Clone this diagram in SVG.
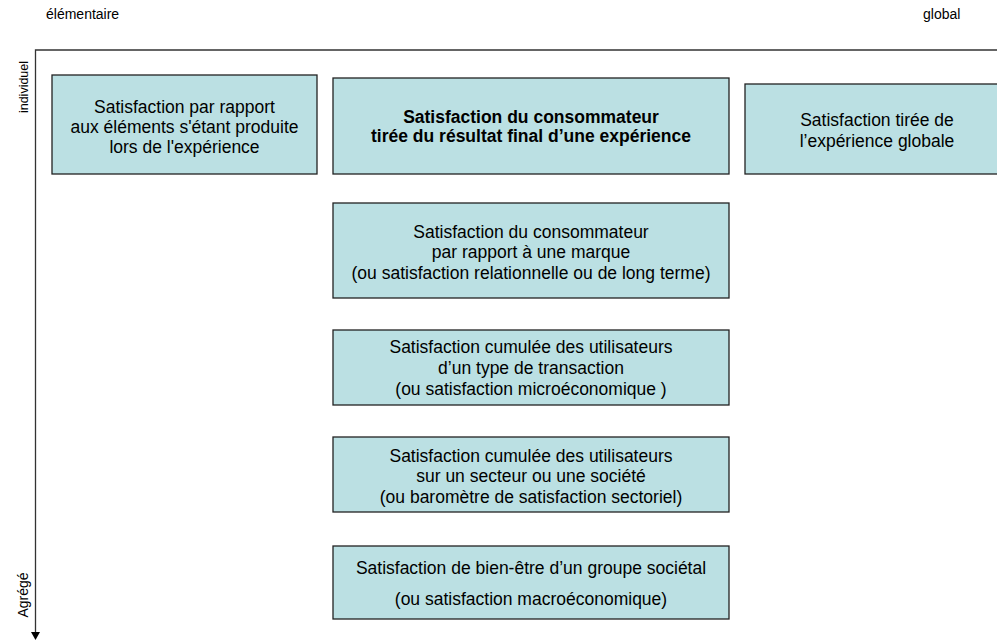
<svg xmlns="http://www.w3.org/2000/svg" width="997" height="641" viewBox="0 0 997 641">
<defs>
<style>
.box{fill:#BBE0E3;stroke:#222;stroke-width:1.3}
.t{font-family:"Liberation Sans",Arial,sans-serif;font-size:17.5px;fill:#000;text-anchor:middle}
.b{font-weight:bold}
.ax{font-family:"Liberation Sans",Arial,sans-serif;font-size:14px;fill:#000}
.axl{stroke:#333;stroke-width:1.3;fill:none}
</style>
</defs>
<rect width="997" height="641" fill="#fff"/>
<g id="axes">
<text class="ax" x="46" y="19">élémentaire</text>
<text class="ax" x="923" y="19">global</text>
<text class="ax" transform="translate(28,87) rotate(-90)" text-anchor="middle" style="font-size:12.5px">individuel</text>
<text class="ax" transform="translate(28,595) rotate(-90)" text-anchor="middle">Agrégé</text>
<path class="axl" d="M997,50 H35.5 V633"/>
<path d="M31,632 L40,632 L35.5,640 Z" fill="#000"/>
</g>
<g id="n1"><rect class="box" x="52" y="75" width="265" height="99"/>
<text class="t" x="184.5" y="113">Satisfaction par rapport</text>
<text class="t" x="184.5" y="133">aux éléments s'étant produite</text>
<text class="t" x="184.5" y="153">lors de l'expérience</text></g>
<g id="n2"><rect class="box" x="333" y="78" width="396" height="96"/>
<text class="t b" x="531" y="123">Satisfaction du consommateur</text>
<text class="t b" x="531" y="142">tirée du résultat final d’une expérience</text></g>
<g id="n3"><rect class="box" x="745" y="84" width="270" height="90"/>
<text class="t" x="877" y="126">Satisfaction tirée de</text>
<text class="t" x="877" y="147">l’expérience globale</text></g>
<g id="n4"><rect class="box" x="333" y="203" width="396" height="95"/>
<text class="t" x="531" y="238">Satisfaction du consommateur</text>
<text class="t" x="531" y="258">par rapport à une marque</text>
<text class="t" x="531" y="279">(ou satisfaction relationnelle ou de long terme)</text></g>
<g id="n5"><rect class="box" x="333" y="330" width="396" height="75"/>
<text class="t" x="531" y="353">Satisfaction cumulée des utilisateurs</text>
<text class="t" x="531" y="374">d’un type de transaction</text>
<text class="t" x="531" y="395">(ou satisfaction microéconomique )</text></g>
<g id="n6"><rect class="box" x="333" y="437" width="396" height="75"/>
<text class="t" x="531" y="462">Satisfaction cumulée des utilisateurs</text>
<text class="t" x="531" y="482">sur un secteur ou une société</text>
<text class="t" x="531" y="503">(ou baromètre de satisfaction sectoriel)</text></g>
<g id="n7"><rect class="box" x="333" y="546" width="396" height="73"/>
<text class="t" x="531" y="574">Satisfaction de bien-être d’un groupe sociétal</text>
<text class="t" x="531" y="605">(ou satisfaction macroéconomique)</text></g>
</svg>
